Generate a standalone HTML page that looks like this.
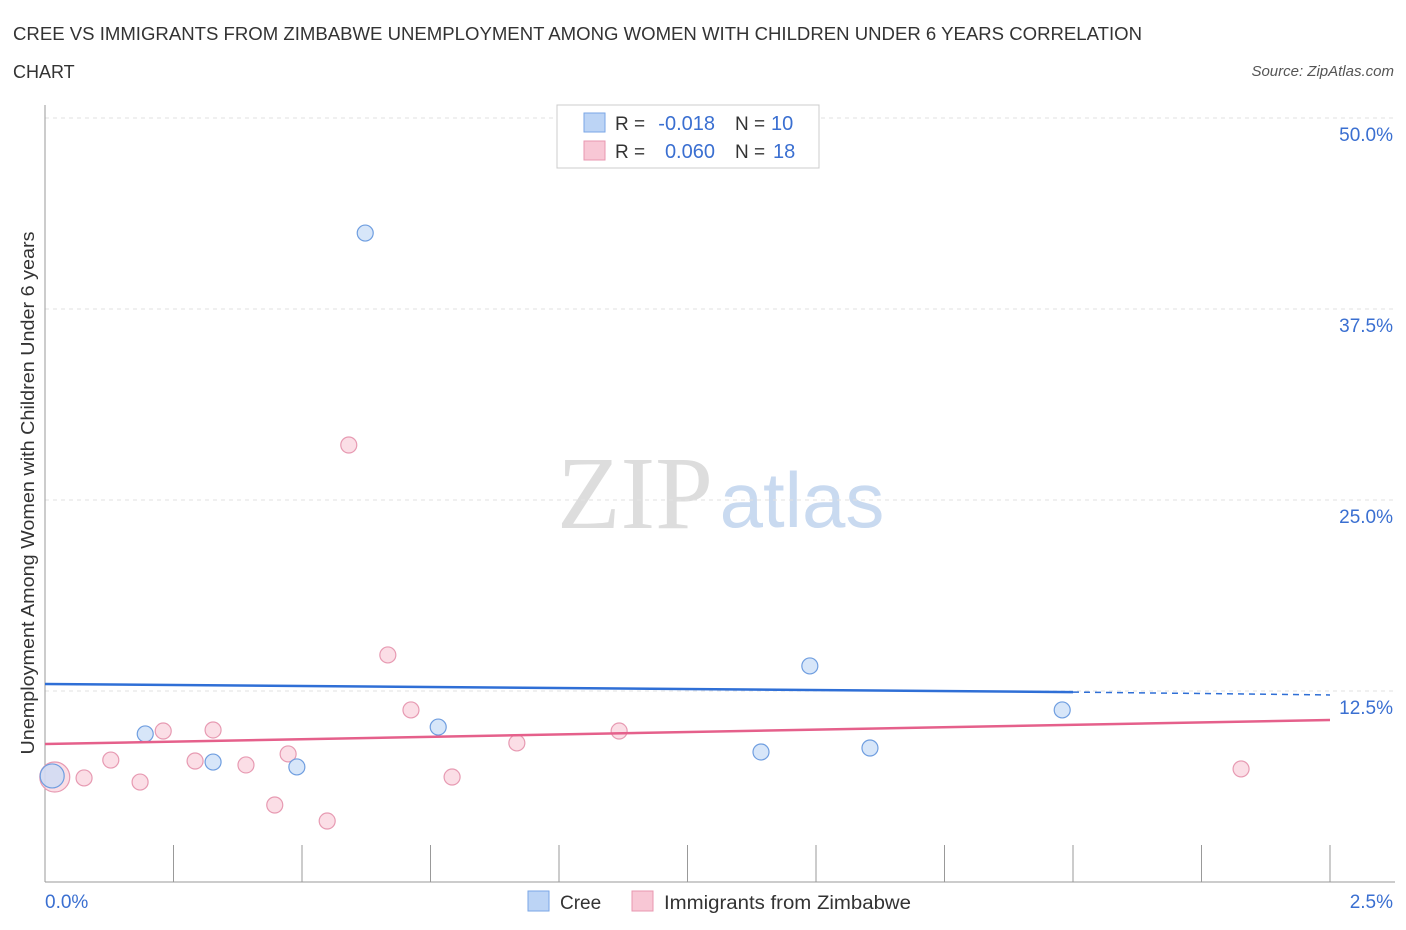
<!DOCTYPE html>
<html><head><meta charset="utf-8">
<style>
body{margin:0;background:#fff;font-family:"Liberation Sans",sans-serif;}
svg{display:block}
</style></head>
<body>
<svg id="chart" width="1406" height="930" viewBox="0 0 1406 930">
<text x="13" y="40" font-size="18" fill="#333" textLength="1129" lengthAdjust="spacingAndGlyphs">CREE VS IMMIGRANTS FROM ZIMBABWE UNEMPLOYMENT AMONG WOMEN WITH CHILDREN UNDER 6 YEARS CORRELATION</text>
<text x="13" y="78" font-size="18" fill="#333">CHART</text>
<text x="1394" y="76" font-size="15" fill="#555" font-style="italic" text-anchor="end">Source: ZipAtlas.com</text>
<text x="635" y="528" font-size="104" fill="#ddd" font-family="Liberation Serif,serif" text-anchor="middle">ZIP</text>
<text x="802" y="527" font-size="78" fill="#c9daf0" text-anchor="middle">atlas</text>
<text transform="translate(34,493) rotate(-90)" font-size="18" fill="#333" text-anchor="middle" textLength="523" lengthAdjust="spacingAndGlyphs">Unemployment Among Women with Children Under 6 years</text>
<g id="grid"></g>
<g id="marks"></g>
<g>
<rect x="557" y="105" width="262" height="63" fill="#fff" stroke="#ccc"/>
<rect x="584" y="113" width="21" height="19" fill="#bcd4f5" stroke="#7aa6e6"/>
<text x="615" y="130" font-size="19" fill="#333">R =</text>
<text x="715" y="130" font-size="20" fill="#3a6fd1" text-anchor="end">-0.018</text>
<text x="735" y="130" font-size="19" fill="#333">N =</text>
<text x="771" y="130" font-size="20" fill="#3a6fd1">10</text>
<rect x="584" y="141" width="21" height="19" fill="#f8c7d5" stroke="#e897b0"/>
<text x="615" y="158" font-size="19" fill="#333">R =</text>
<text x="715" y="158" font-size="20" fill="#3a6fd1" text-anchor="end">0.060</text>
<text x="735" y="158" font-size="19" fill="#333">N =</text>
<text x="773" y="158" font-size="20" fill="#3a6fd1">18</text>
</g>
<g>
<rect x="528" y="891" width="21" height="20" fill="#bcd4f5" stroke="#7aa6e6"/>
<text x="560" y="909" font-size="19" fill="#333">Cree</text>
<rect x="632" y="891" width="21" height="20" fill="#f8c7d5" stroke="#e897b0"/>
<text x="664" y="909" font-size="19" fill="#333" textLength="247" lengthAdjust="spacingAndGlyphs">Immigrants from Zimbabwe</text>
</g>
</svg>
<script>
const yTicks=[50,37.5,25,12.5];
const yTickLabels=["50.0%","37.5%","25.0%","12.5%"];
const xTickLabels=["0.0%","2.5%"];
const creeX=[0.623,0.195,0.327,0.490,0.765,1.393,1.488,1.605,1.979,0.014];
const creeY=[42.47,9.69,7.85,7.53,10.14,8.51,14.14,8.77,11.26,6.94];
const zimX=[0.019,0.076,0.128,0.185,0.230,0.292,0.327,0.391,0.447,0.473,0.549,0.591,0.667,0.712,0.792,0.918,1.117,2.327];
const zimY=[6.87,6.81,7.98,6.54,9.88,7.92,9.95,7.66,5.04,8.38,3.99,28.60,14.86,11.26,6.87,9.10,9.88,7.40];
const creeTrend=[12.96,12.43,12.24];
const zimTrend=[9.03,10.60];
const X=v=>45+v*514, Y=v=>882-v*15.28;
const NS="http://www.w3.org/2000/svg";
function mk(t,a,p){const e=document.createElementNS(NS,t);for(const k in a)e.setAttribute(k,a[k]);p.appendChild(e);return e;}
const g=document.getElementById('grid'), m=document.getElementById('marks');
yTicks.forEach((t,i)=>{
 const l=mk('line',{x1:45,x2:1395,y1:Y(t),y2:Y(t),stroke:'#e2e2e2','stroke-dasharray':'4,4'},g);
 
 
 const tx=mk('text',{x:1393,y:Y(t)+23,'font-size':19,fill:'#3a6fd1','text-anchor':'end'},g);
 tx.textContent=yTickLabels[i];
 
 
});
mk('line',{x1:45,x2:45,y1:105,y2:882,stroke:'#999'},g);
mk('line',{x1:45,x2:1395,y1:882,y2:882,stroke:'#999'},g);
for(let i=0;i<=10;i++){const x=X(i*0.25);mk('line',{x1:x,x2:x,y1:845,y2:882,stroke:'#999'},g);}
const xl0=mk('text',{x:45,y:908,'font-size':19,fill:'#3a6fd1'},g);xl0.textContent=xTickLabels[0];


const xl1=mk('text',{x:1393,y:908,'font-size':19,fill:'#3a6fd1','text-anchor':'end'},g);xl1.textContent=xTickLabels[1];


function dot(x,y,fill,stroke,r){const c=mk('circle',{cx:X(x),cy:Y(y),r:r,fill:fill,stroke:stroke,'stroke-width':1.2,'fill-opacity':0.7},m);return c;}
zimX.forEach((x,i)=>{const c=dot(x,zimY[i],'#f9d0dc','#e79ab2',i==0?15:8);
 
 });
creeX.forEach((x,i)=>{const c=dot(x,creeY[i],'#c6dbf7','#6f9ee0',i==9?12:8);
 
 });
const bl=mk('line',{x1:X(0),y1:Y(creeTrend[0]),x2:X(2.0),y2:Y(creeTrend[1]),stroke:'#2f6fd6','stroke-width':2.5},m);


const bd=mk('line',{x1:X(2.0),y1:Y(creeTrend[1]),x2:X(2.5),y2:Y(creeTrend[2]),stroke:'#2f6fd6','stroke-width':1.5,'stroke-dasharray':'6,5'},m);


const pl=mk('line',{x1:X(0),y1:Y(zimTrend[0]),x2:X(2.5),y2:Y(zimTrend[1]),stroke:'#e5608b','stroke-width':2.5},m);


</script>
</body></html>
